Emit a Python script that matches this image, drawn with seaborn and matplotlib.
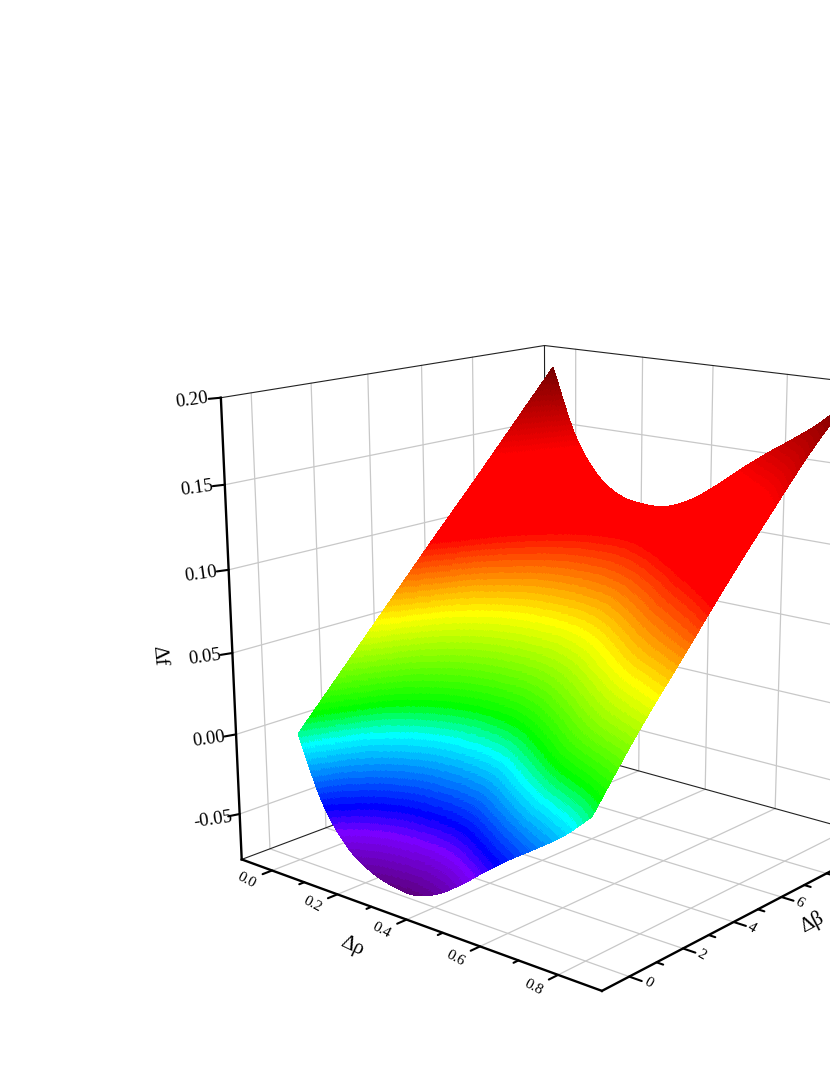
import numpy as np
import seaborn as sns
import matplotlib
matplotlib.use("Agg")
import matplotlib.pyplot as plt
from matplotlib.colors import ListedColormap, BoundaryNorm
from mpl_toolkits.mplot3d import proj3d

sns.set_style("white")
plt.rcParams["font.family"] = ["Liberation Serif", "DejaVu Serif"]

# values
delta_rho = [0.000, 0.067, 0.135, 0.202, 0.270, 0.337, 0.405, 0.472, 0.540, 0.607, 0.674, 0.742, 0.809]
delta_beta = [0.08, 1.74, 3.40, 5.06, 6.71, 8.37, 10.03]
delta_f = [
    [0.000, -0.038, -0.060, -0.071, -0.076, -0.077, -0.071, -0.060, -0.047, -0.035, -0.024, -0.012, 0.003],
    [0.032, -0.002, -0.020, -0.030, -0.033, -0.032, -0.026, -0.014, -0.001, 0.012, 0.023, 0.032, 0.040],
    [0.064, 0.033, 0.017, 0.009, 0.006, 0.008, 0.014, 0.024, 0.035, 0.046, 0.056, 0.064, 0.073],
    [0.096, 0.064, 0.049, 0.042, 0.040, 0.041, 0.046, 0.054, 0.064, 0.074, 0.083, 0.093, 0.106],
    [0.127, 0.095, 0.078, 0.070, 0.068, 0.069, 0.073, 0.081, 0.090, 0.100, 0.109, 0.122, 0.137],
    [0.159, 0.123, 0.103, 0.094, 0.091, 0.092, 0.098, 0.106, 0.117, 0.127, 0.137, 0.150, 0.167],
    [0.191, 0.149, 0.125, 0.114, 0.111, 0.112, 0.119, 0.130, 0.143, 0.155, 0.166, 0.178, 0.193],
]
rho_ticks = [0.0, 0.2, 0.4, 0.6, 0.8]
rho_minor = [0.1, 0.3, 0.5, 0.7]
beta_ticks = [0, 2, 4, 6, 8]
beta_labels = [0, 2, 4, 6]
beta_minor = [1, 3, 5, 7, 9]
f_ticks = [-0.05, 0.00, 0.05, 0.10, 0.15, 0.20]
xmin, xmax = -0.097, 0.907
ymin, ymax = -0.97, 11.01
zmin, zmax = -0.079, 0.2

# rainbow bands: colour stops and number of bands between them
band_stops = ["#5a0070", "#7a00ff", "#0000ff", "#00ffff", "#00ff00", "#ffff00", "#ff0000", "#ff0000", "#600000"]
band_counts = [8, 4, 11, 5, 14, 13, 14, 18]


def upsample(values, n):
    # Catmull-Rom between neighbouring read values, along the last axis
    a = np.asarray(values, float)
    a = np.concatenate([2 * a[..., :1] - a[..., 1:2], a, 2 * a[..., -1:] - a[..., -2:-1]], axis=-1)
    m = a.shape[-1] - 3
    t = np.linspace(0, m, m * n + 1)
    i = np.minimum(t.astype(int), m - 1)
    f = t - i
    p0, p1, p2, p3 = a[..., i], a[..., i + 1], a[..., i + 2], a[..., i + 3]
    return 0.5 * (2 * p1 + (p2 - p0) * f + (2 * p0 - 5 * p1 + 4 * p2 - p3) * f**2 + (3 * p1 - p0 - 3 * p2 + p3) * f**3)


xs = upsample(delta_rho, 30)
ys = upsample(delta_beta, 60)
Z = upsample(upsample(delta_f, 30).T, 60).T
X, Y = np.meshgrid(xs, ys)

colors = []
for a, b, n in zip(band_stops[:-1], band_stops[1:], band_counts):
    colors += sns.blend_palette([a, b], n + 1)[1:]
levels = np.linspace(zmin, zmax, len(colors) + 1)
cmap = ListedColormap(colors)
norm = BoundaryNorm(levels, len(colors))

fig = plt.figure(figsize=(8.3, 10.75), dpi=100)
ax = fig.add_axes([160.7 / 830, 37.6 / 1075, 796.4 / 830, 796.4 / 1075], projection="3d")
ax.view_init(elev=15.6, azim=-49.7)
ax.set_proj_type("persp", focal_length=0.486)
ax.set_box_aspect((1, 0.995, 0.997))
ax.computed_zorder = False
ax.set_axis_off()
ax.set_xlim(xmin, xmax)
ax.set_ylim(ymin, ymax)
ax.set_zlim(zmin, zmax)


def label(x, y, z, s, **kw):
    # Text3D ignores rotation, so place the text at its projected position
    px, py, _ = proj3d.proj_transform(x, y, z, ax.get_proj())
    ax.text2D(px, py, s, transform=ax.transData, ha="center", va="center", color="black", **kw)


grid = dict(color="#c8c8c8", lw=0.9, zorder=1)
for v in rho_ticks:
    ax.plot([v, v], [ymin, ymax], [zmin, zmin], **grid)
    ax.plot([v, v], [ymax, ymax], [zmin, zmax], **grid)
for v in beta_ticks:
    ax.plot([xmin, xmax], [v, v], [zmin, zmin], **grid)
    ax.plot([xmin, xmin], [v, v], [zmin, zmax], **grid)
for v in f_ticks[:-1]:
    ax.plot([xmin, xmin], [ymin, ymax], [v, v], **grid)
    ax.plot([xmin, xmax], [ymax, ymax], [v, v], **grid)

# thin box edges behind the surface
thin = dict(color="#222222", lw=0.8, zorder=2)
ax.plot([xmin, xmin], [ymin, ymax], [zmin, zmin], **thin)
ax.plot([xmin, xmax], [ymax, ymax], [zmin, zmin], **thin)
ax.plot([xmin, xmin], [ymin, ymax], [zmax, zmax], **thin)
ax.plot([xmin, xmax], [ymax, ymax], [zmax, zmax], **thin)
ax.plot([xmin, xmin], [ymax, ymax], [zmin, zmax], **thin)

ax.plot_surface(X, Y, Z, facecolors=cmap(norm(Z)), rstride=1, cstride=1, linewidth=0,
                antialiased=False, shade=False, zorder=3)

# thick axes with their ticks
thick = dict(color="black", lw=1.7, zorder=4, solid_capstyle="projecting")
ax.plot([xmin, xmax], [ymin, ymin], [zmin, zmin], **thick)
ax.plot([xmax, xmax], [ymin, ymax], [zmin, zmin], **thick)
ax.plot([xmin, xmin], [ymin, ymin], [zmin, zmax], **thick)
tick = dict(color="black", lw=1.5, zorder=4)
for v in rho_ticks:
    ax.plot([v, v], [ymin, ymin - 0.32], [zmin, zmin], **tick)
    label(v, ymin - 0.85, zmin, f"{v:.1f}", fontsize=11, rotation=-28)
for v in rho_minor:
    ax.plot([v, v], [ymin, ymin - 0.17], [zmin, zmin], **tick)
for v in beta_ticks:
    ax.plot([xmax, xmax + 0.03], [v, v], [zmin, zmin], **tick)
for v in beta_labels:
    label(xmax + 0.045, v, zmin, f"{v}", fontsize=11, rotation=-30)
for v in beta_minor:
    ax.plot([xmax, xmax + 0.016], [v, v], [zmin, zmin], **tick)
for v in f_ticks:
    ax.plot([xmin, xmin - 0.008], [ymin, ymin - 0.3], [v, v], **tick)
    label(xmin - 0.017, ymin - 0.72, v, f"{v:.2f}", fontsize=13.5, rotation=8)

label(xmin, ymin - 2.3, 0.06, "Δf", fontsize=15, rotation=-85)
label(0.41, ymin - 1.94, zmin, "Δρ", fontsize=15, rotation=-25)
label(xmax + 0.12, 5.2, zmin, "Δβ", fontsize=15, rotation=28)

fig.savefig("out.png", dpi=100)
